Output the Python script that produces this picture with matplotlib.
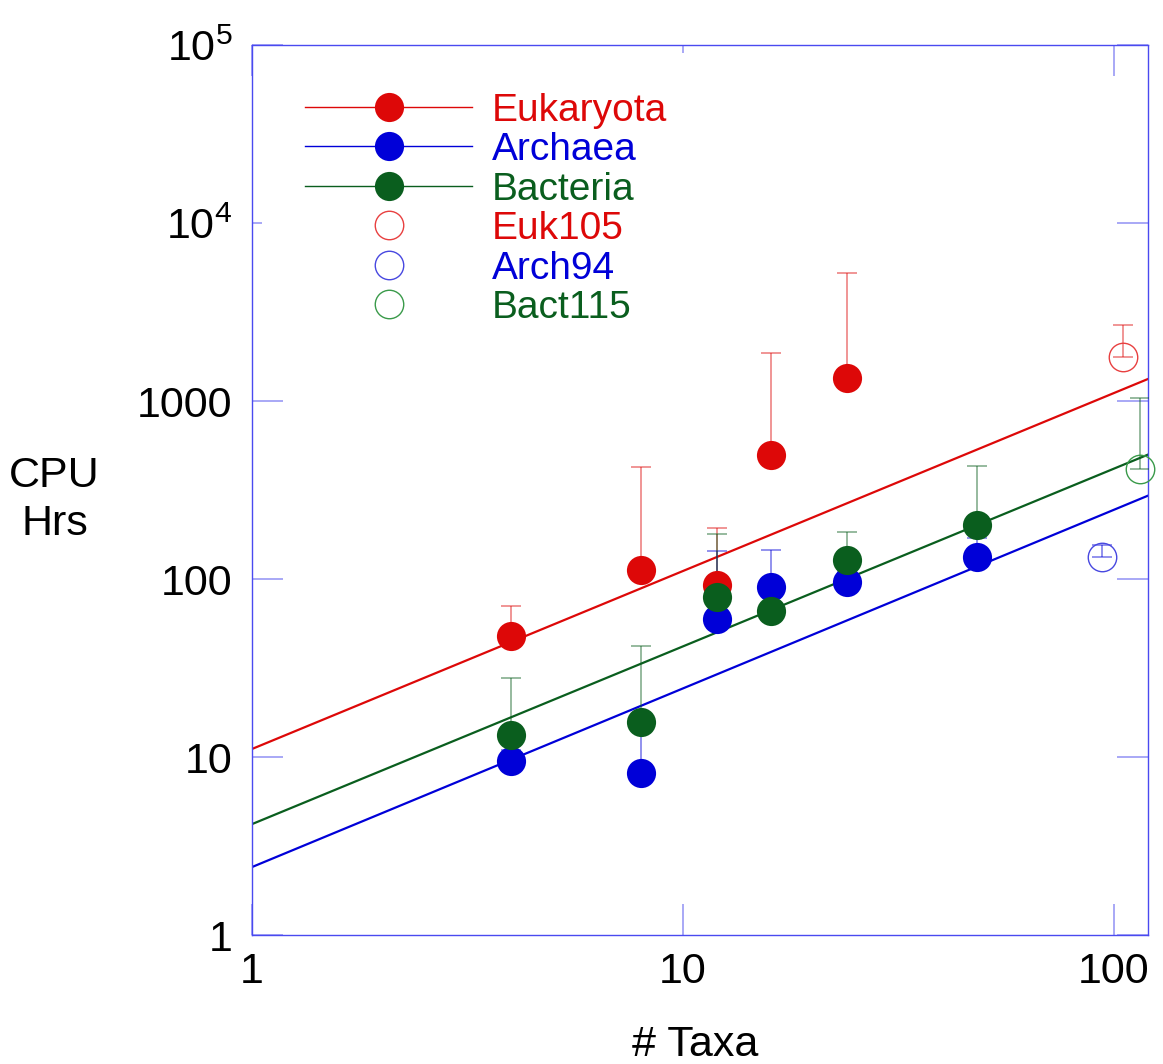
import matplotlib
matplotlib.use("Agg")
import matplotlib.pyplot as plt
from matplotlib.lines import Line2D
from matplotlib.ticker import FixedLocator, FixedFormatter, NullLocator

plt.rcParams["font.family"] = ["Liberation Sans", "DejaVu Sans"]
plt.rcParams["mathtext.fontset"] = "custom"
plt.rcParams["mathtext.rm"] = "Liberation Sans"

# data
taxa = [4, 8, 12, 16, 24, 48]
euk_taxa = [4, 8, 12, 16, 24]
euk_hrs = [47.8, 112, 93, 497, 1350]
euk_hi = [70.5, 426, 193, 1860, 5240]
arch_hrs = [9.5, 8.1, 60, 90, 96, 133]
arch_hi = [11, 14, 144, 146, 110, 171]
bact_hrs = [13.3, 15.7, 79, 66, 128, 201]
bact_hi = [27.8, 42, 179, 80, 184, 431]

# big single runs
big_taxa = [105, 94, 115]
big_hrs = [1766, 133, 415]
big_hi = [2670, 155, 1040]
big_names = ["Euk105", "Arch94", "Bact115"]

# power-law fits, end points
fit_x = [1, 120]
euk_fit = [11.1, 1330]
arch_fit = [2.41, 294]
bact_fit = [4.2, 500]

red = "#dd0808"
blue = "#0000d8"
green = "#0a5e1e"
open_red = "#e84040"
open_blue = "#4848e0"
open_green = "#3a9a4a"

fig = plt.figure(figsize=(11.63, 10.64), dpi=100)
ax = fig.add_axes([0.2167, 0.1212, 0.7704, 0.8365])
ax.set_xscale("log")
ax.set_yscale("log")
ax.set_xlim(1, 120)
ax.set_ylim(1, 1e5)

# fit lines
ax.plot(fit_x, euk_fit, color=red, lw=1.6, zorder=2)
ax.plot(fit_x, arch_fit, color=blue, lw=1.6, zorder=2)
ax.plot(fit_x, bact_fit, color=green, lw=1.6, zorder=2)

# upper error bars
def upper_err(x, y, hi, col):
    err = [[0] * len(y), [h - v for h, v in zip(hi, y)]]
    ax.errorbar(x, y, yerr=err, fmt="none", ecolor=col, elinewidth=1.2,
                capsize=7.5, capthick=1.2, alpha=0.5, zorder=3)

upper_err(euk_taxa, euk_hrs, euk_hi, red)
upper_err(taxa, arch_hrs, arch_hi, blue)
upper_err(taxa, bact_hrs, bact_hi, green)
for x, y, h, c in zip(big_taxa, big_hrs, big_hi, [red, blue, green]):
    upper_err([x], [y], [h], c)

ms = 21
ax.plot(euk_taxa, euk_hrs, "o", ms=ms, color=red, mec="none", zorder=4)
ax.plot(taxa, arch_hrs, "o", ms=ms, color=blue, mec="none", zorder=4)
ax.plot(taxa, bact_hrs, "o", ms=ms, color=green, mec="none", zorder=4)
for x, y, c in zip(big_taxa, big_hrs, [open_red, open_blue, open_green]):
    ax.plot([x], [y], "o", ms=20.5, mfc="none", mec=c, mew=1.0, zorder=4,
            clip_on=False)

# axes frame & ticks
for s in ax.spines.values():
    s.set_color("#4a4af0")
    s.set_linewidth(1.0)
ax.xaxis.set_major_locator(FixedLocator([1, 10, 100]))
ax.xaxis.set_major_formatter(FixedFormatter(["1", "10", "100"]))
ax.yaxis.set_major_locator(FixedLocator([1, 10, 100, 1000, 1e4, 1e5]))
ax.yaxis.set_major_formatter(FixedFormatter(
    ["1", "10", "100", "1000", r"$\mathregular{10^4}$", r"$\mathregular{10^5}$"]))
ax.xaxis.set_minor_locator(NullLocator())
ax.yaxis.set_minor_locator(NullLocator())
ax.tick_params(which="major", direction="in", length=22, width=1.2,
               color="#9a9af5", top=True, right=True, labelsize=31)
ax.tick_params(axis="y", pad=14)
ax.tick_params(axis="x", pad=12)

# a couple of the original ticks are short
ax.xaxis.get_major_ticks()[1].tick2line.set_markersize(6)
ax.yaxis.get_major_ticks()[4].tick1line.set_markersize(7)

fig.text(0.047, 0.53, "CPU\nHrs", fontsize=31, ha="center", va="center",
         linespacing=1.25)
fig.text(0.598, 0.018, "# Taxa", fontsize=31, ha="center", va="center")

# legend
handles = [
    Line2D([], [], color=red, lw=1.0, marker="o", ms=ms, mec="none"),
    Line2D([], [], color=blue, lw=1.0, marker="o", ms=ms, mec="none"),
    Line2D([], [], color=green, lw=1.0, marker="o", ms=ms, mec="none"),
    Line2D([], [], ls="none", marker="o", ms=20.5, mfc="none", mec=open_red, mew=1.0),
    Line2D([], [], ls="none", marker="o", ms=20.5, mfc="none", mec=open_blue, mew=1.0),
    Line2D([], [], ls="none", marker="o", ms=20.5, mfc="none", mec=open_green, mew=1.0),
]
labels = ["Eukaryota", "Archaea", "Bacteria"] + big_names
leg = ax.legend(handles, labels, loc="upper left", bbox_to_anchor=(0.042, 0.964),
                frameon=False, fontsize=28, handlelength=4.3, handletextpad=0.5,
                labelspacing=0.09, borderaxespad=0,
                labelcolor=[red, blue, green, red, blue, green])

fig.savefig("out.png", dpi=100)
